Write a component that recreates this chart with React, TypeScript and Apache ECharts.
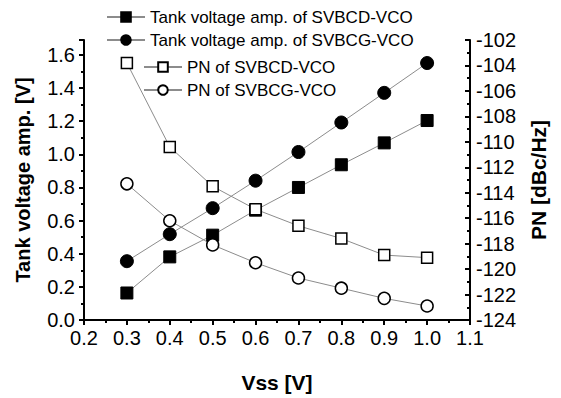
import React, { useEffect, useRef } from "react";
import * as echarts from "echarts";

const vss = [0.3, 0.4, 0.5, 0.6, 0.7, 0.8, 0.9, 1.0];
const ampSVBCD = [0.163, 0.381, 0.512, 0.663, 0.80, 0.937, 1.069, 1.204];
const ampSVBCG = [0.355, 0.518, 0.675, 0.841, 1.014, 1.192, 1.371, 1.551];
const pnSVBCD = [-103.8, -110.4, -113.5, -115.3, -116.6, -117.6, -118.9, -119.1];
const pnSVBCG = [-113.3, -116.2, -118.1, -119.5, -120.7, -121.5, -122.3, -122.9];

const seriesNames = [
  "Tank voltage amp. of SVBCD-VCO",
  "Tank voltage amp. of SVBCG-VCO",
  "PN of SVBCD-VCO",
  "PN of SVBCG-VCO",
];

const FONT = "'Liberation Sans', Arial, Helvetica, sans-serif";

const pair = (xs: number[], ys: number[]) => xs.map((x, i) => [x, ys[i]]);

export default function App() {
  const ref = useRef<HTMLDivElement>(null);
  useEffect(() => {
    if (!ref.current) return;
    const chart = echarts.init(ref.current, null, { renderer: "svg" });
    const axisLine = { show: true, lineStyle: { color: "#000", width: 2 } };
    const axisLabel = { color: "#000", fontSize: 20, fontFamily: FONT };
    const nameStyle = { color: "#000", fontSize: 21, fontWeight: "bold", fontFamily: FONT };
    const lineStyle = { color: "#8c8c8c", width: 1 };
    const legendCommon = {
      orient: "vertical",
      itemWidth: 38,
      itemHeight: 12,
      itemGap: 5,
      textStyle: { color: "#000", fontSize: 17, fontFamily: FONT, lineHeight: 18 },
      selectedMode: false,
    };
    chart.setOption({
      animation: false,
      backgroundColor: "#fff",
      grid: { left: 84, right: 91, top: 40, bottom: 71, containLabel: false },
      legend: [
        { ...legendCommon, data: [seriesNames[0], seriesNames[1]], left: 101, top: 3 },
        { ...legendCommon, data: [seriesNames[2], seriesNames[3]], left: 138, top: 53 },
      ],
      xAxis: {
        type: "value",
        min: 0.2,
        max: 1.1,
        interval: 0.1,
        name: "Vss [V]",
        nameLocation: "middle",
        nameGap: 52,
        nameTextStyle: nameStyle,
        axisLine,
        axisTick: { show: true, length: 5, lineStyle: { color: "#000", width: 2 } },
        minorTick: { show: true, splitNumber: 2, length: 3, lineStyle: { color: "#000", width: 2 } },
        axisLabel: { ...axisLabel, margin: 8, formatter: (v: number) => v.toFixed(1) },
        splitLine: { show: false },
      },
      yAxis: [
        {
          type: "value",
          position: "left",
          min: 0,
          max: 1.69,
          interval: 0.2,
          name: "Tank voltage amp. [V]",
          nameLocation: "middle",
          nameGap: 51,
          nameTextStyle: { ...nameStyle, fontSize: 20 },
          axisLine,
          axisTick: { show: true, length: 5, lineStyle: { color: "#000", width: 2 } },
          minorTick: { show: true, splitNumber: 2, length: 3, lineStyle: { color: "#000", width: 2 } },
          axisLabel: {
            ...axisLabel,
            margin: 9,
            formatter: (v: number) => {
              const k = Math.round(v / 0.2);
              return Math.abs(v - k * 0.2) < 1e-6 ? v.toFixed(1) : "";
            },
          },
          splitLine: { show: false },
        },
        {
          type: "value",
          position: "right",
          min: -124,
          max: -102,
          interval: 2,
          name: "PN [dBc/Hz]",
          nameLocation: "middle",
          nameGap: 58,
          nameRotate: 90,
          nameTextStyle: nameStyle,
          axisLine,
          axisTick: { show: true, inside: true, length: 5, lineStyle: { color: "#000", width: 2 } },
          minorTick: { show: true, splitNumber: 2, length: 3, lineStyle: { color: "#000", width: 2 } },
          axisLabel: { ...axisLabel, margin: 6 },
          splitLine: { show: false },
        },
      ],
      series: [
        {
          name: seriesNames[0],
          type: "line",
          yAxisIndex: 0,
          data: pair(vss, ampSVBCD),
          symbol: "rect",
          symbolSize: 12,
          itemStyle: { color: "#000", borderColor: "#000", borderWidth: 1 },
          lineStyle,
        },
        {
          name: seriesNames[1],
          type: "line",
          yAxisIndex: 0,
          data: pair(vss, ampSVBCG),
          symbol: "circle",
          symbolSize: 13,
          itemStyle: { color: "#000", borderColor: "#000", borderWidth: 1 },
          lineStyle,
        },
        {
          name: seriesNames[2],
          type: "line",
          yAxisIndex: 1,
          data: pair(vss, pnSVBCD),
          symbol: "rect",
          symbolSize: 11,
          itemStyle: { color: "#fff", borderColor: "#000", borderWidth: 1.5 },
          lineStyle,
        },
        {
          name: seriesNames[3],
          type: "line",
          yAxisIndex: 1,
          data: pair(vss, pnSVBCG),
          symbol: "circle",
          symbolSize: 12,
          itemStyle: { color: "#fff", borderColor: "#000", borderWidth: 1.5 },
          lineStyle,
        },
      ],
    });
    return () => chart.dispose();
  }, []);
  return (
    <div
      ref={ref}
      style={{ position: "fixed", left: 0, top: 0, width: 561, height: 398, background: "#fff" }}
    />
  );
}
